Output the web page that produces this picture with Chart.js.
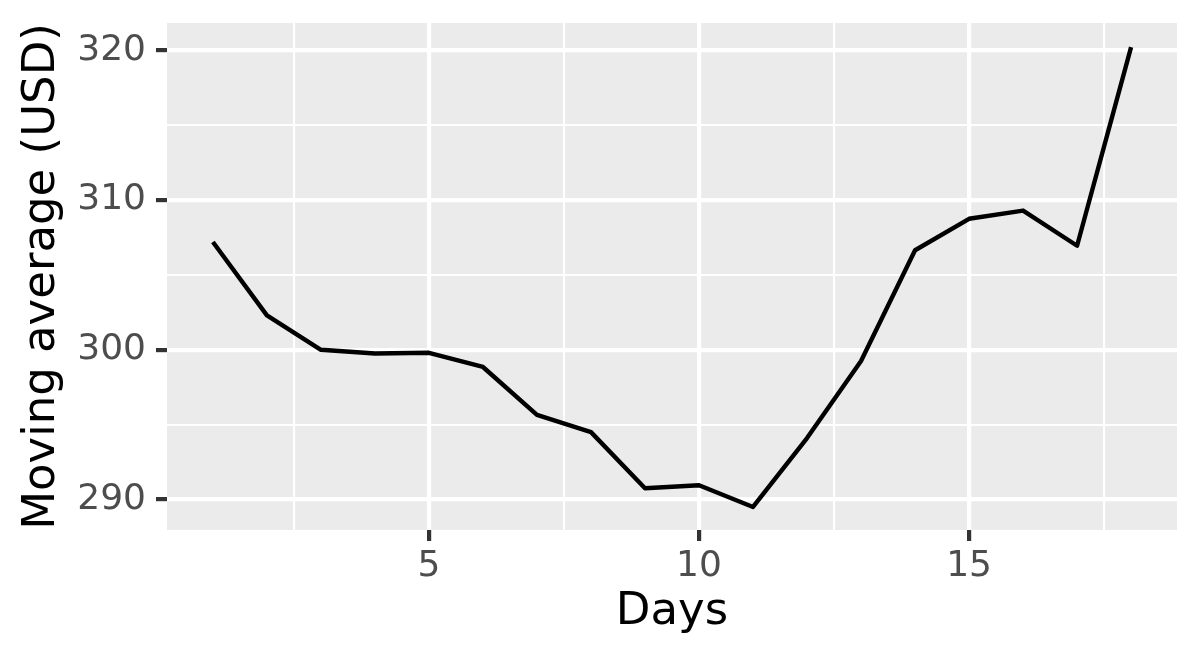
<!DOCTYPE html>
<html>
<head>
<meta charset="utf-8">
<script src="https://cdn.jsdelivr.net/npm/chart.js@4"></script>
<style>
  html, body { margin: 0; padding: 0; background: #fff; }
  #wrap { width: 1200px; height: 660px; }
</style>
</head>
<body>
<div id="wrap"><canvas id="maChart"></canvas></div>
<script>
const days = [1, 2, 3, 4, 5, 6, 7, 8, 9, 10, 11, 12, 13, 14, 15, 16, 17, 18];
const movingAvg = [307.2, 302.3, 300.0, 299.75, 299.8, 298.85, 295.65, 294.5, 290.75,
                   290.95, 289.5, 294.1, 299.25, 306.65, 308.75, 309.3, 306.95, 320.22];
const xTicks = [2.5, 5, 7.5, 10, 12.5, 15, 17.5];
const yTicks = [290, 295, 300, 305, 310, 315, 320];

// grey panel behind the grid, like theme_grey
const panelBg = {
    id: 'panelBg',
    beforeDraw(chart) {
        const {ctx, chartArea: a} = chart;
        ctx.save();
        ctx.fillStyle = '#EBEBEB';
        ctx.fillRect(a.left, a.top, a.right - a.left, a.bottom - a.top);
        ctx.restore();
    }
};

const tickFont = {family: 'DejaVu Sans', size: 36};
const titleFont = {family: 'DejaVu Sans', size: 45};

const isMajorX = v => v % 5 === 0;
const isMajorY = v => v % 10 === 0;

const ctx = document.getElementById('maChart').getContext('2d');
const maChart = new Chart(ctx, {
    type: 'line',
    data: {
        datasets: [{
                data: days.map((d, i) => ({x: d, y: movingAvg[i]})),
                borderColor: '#000000',
                borderWidth: 4.4,
                borderJoinStyle: 'round',
                pointRadius: 0,
                tension: 0,
                fill: false
            }]
    },
    options: {
        responsive: true,
        maintainAspectRatio: false,
        animation: false,
        layout: {
            padding: {top: 23, right: 23, left: 0, bottom: 0}
        },
        plugins: {
            legend: {display: false},
            tooltip: {enabled: false}
        },
        scales: {
            x: {
                type: 'linear',
                min: 0.15,
                max: 18.85,
                afterBuildTicks: scale => {
                    scale.ticks = xTicks.map(v => ({value: v}));
                },
                afterFit: scale => {
                    scale.height = 130;
                    scale.paddingLeft = 0;
                    scale.paddingRight = 0;
                },
                border: {display: false},
                grid: {
                    color: '#FFFFFF',
                    lineWidth: c => isMajorX(c.tick.value) ? 4.2 : 2.1,
                    drawTicks: true,
                    tickLength: 11,
                    tickWidth: 4.2,
                    tickColor: c => isMajorX(c.tick.value) ? '#333333' : 'rgba(0,0,0,0)'
                },
                ticks: {
                    autoSkip: false,
                    maxRotation: 0,
                    padding: 4,
                    color: '#4D4D4D',
                    font: tickFont,
                    callback: v => isMajorX(v) ? String(v) : ''
                },
                title: {
                    display: true,
                    text: 'Days',
                    color: '#000000',
                    font: titleFont,
                    padding: {top: 0, bottom: 20.5}
                }
            },
            y: {
                type: 'linear',
                min: 287.96,
                max: 321.83,
                afterBuildTicks: scale => {
                    scale.ticks = yTicks.map(v => ({value: v}));
                },
                afterFit: scale => {
                    scale.width = 167;
                    // keep the panel edges where ggplot puts them
                    scale.paddingTop = 0;
                    scale.paddingBottom = 0;
                },
                border: {display: false},
                grid: {
                    color: '#FFFFFF',
                    lineWidth: c => isMajorY(c.tick.value) ? 4.2 : 2.1,
                    drawTicks: true,
                    tickLength: 11,
                    tickWidth: 4.2,
                    tickColor: c => isMajorY(c.tick.value) ? '#333333' : 'rgba(0,0,0,0)'
                },
                ticks: {
                    autoSkip: false,
                    padding: 10,
                    color: '#4D4D4D',
                    font: tickFont,
                    callback: v => isMajorY(v) ? String(v) : ''
                },
                title: {
                    display: true,
                    text: 'Moving average (USD)',
                    color: '#000000',
                    font: titleFont,
                    padding: {top: 15, bottom: 0}
                }
            }
        }
    },
    plugins: [panelBg]
});
</script>
</body>
</html>
